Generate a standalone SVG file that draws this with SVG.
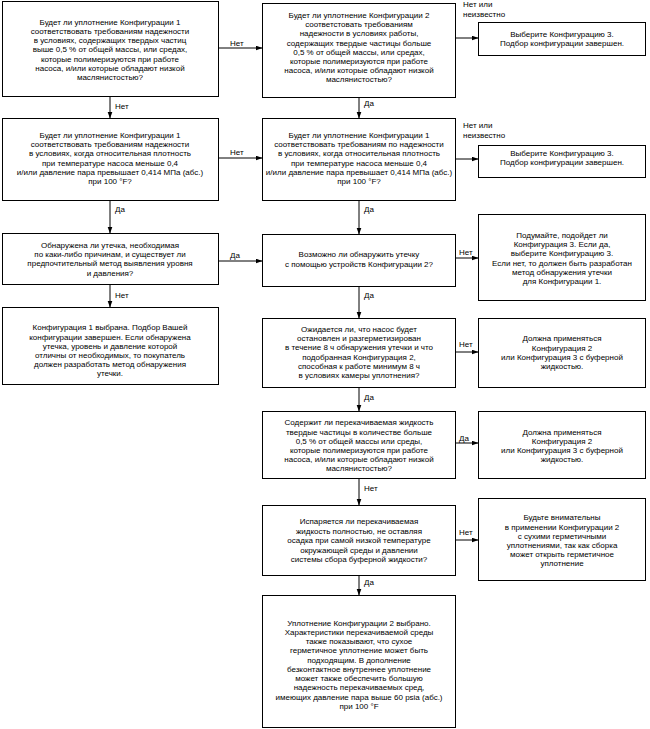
<svg xmlns="http://www.w3.org/2000/svg" width="650" height="729" viewBox="0 0 650 729">
<defs>
<style>
.b{fill:#fff;stroke:#000;stroke-width:1}
.t{font-family:"Liberation Sans",Arial,sans-serif;font-size:8px;text-anchor:middle;fill:#000}
.l{font-family:"Liberation Sans",Arial,sans-serif;font-size:8px;text-anchor:start;fill:#000}
.c{fill:none;stroke:#000;stroke-width:1;marker-end:url(#ah)}
</style>
<marker id="ah" markerUnits="userSpaceOnUse" markerWidth="8" markerHeight="6" refX="7" refY="2.5" orient="auto">
<path d="M0,0 L7,2.5 L0,5 z" fill="#000"/>
</marker>
</defs>
<rect width="650" height="729" fill="#fff"/>

<g id="connectors">
<path class="c" d="M218.5,48 H262.5"/>
<path class="c" d="M110,96.5 V118.5"/>
<path class="c" d="M455.5,38 H478.5"/>
<path class="c" d="M359,97.5 V118.5"/>
<path class="c" d="M218.5,158 H262.5"/>
<path class="c" d="M455.5,159 H478.5"/>
<path class="c" d="M110,200.5 V233.5"/>
<path class="c" d="M359,200.5 V234.5"/>
<path class="c" d="M218.5,261 H262.5"/>
<path class="c" d="M110,284.5 V307.5"/>
<path class="c" d="M455.5,258 H478.5"/>
<path class="c" d="M359,286.5 V318.5"/>
<path class="c" d="M455.5,352 H478.5"/>
<path class="c" d="M359,387.5 V411.5"/>
<path class="c" d="M455.5,443 H478.5"/>
<path class="c" d="M359,478.5 V505.5"/>
<path class="c" d="M455.5,540 H478.5"/>
<path class="c" d="M359,575.5 V595.5"/>
<text class="l" x="230" y="46">Нет</text>
<text class="l" x="115" y="109">Нет</text>
<text class="l" x="463" y="7">Нет или</text>
<text class="l" x="463" y="16.5">неизвестно</text>
<text class="l" x="364" y="106">Да</text>
<text class="l" x="230" y="155">Нет</text>
<text class="l" x="463" y="128">Нет или</text>
<text class="l" x="463" y="137.5">неизвестно</text>
<text class="l" x="115" y="212">Да</text>
<text class="l" x="364" y="212">Да</text>
<text class="l" x="230" y="258">Да</text>
<text class="l" x="115" y="298">Нет</text>
<text class="l" x="459" y="255">Нет</text>
<text class="l" x="364" y="298">Да</text>
<text class="l" x="459" y="347">Нет</text>
<text class="l" x="364" y="399.5">Да</text>
<text class="l" x="459" y="440.5">Да</text>
<text class="l" x="364" y="491">Нет</text>
<text class="l" x="459" y="534.5">Нет</text>
<text class="l" x="364" y="584.5">Да</text>
</g>

<g id="L1">
<rect class="b" x="2.5" y="1.5" width="216" height="95"/>
<text class="t" y="24.8"><tspan x="110">Будет ли уплотнение Конфигурации 1</tspan><tspan x="110" dy="9.2">соответствовать требованиям надежности</tspan><tspan x="110" dy="9.2">в условиях, содержащих твердых частиц</tspan><tspan x="110" dy="9.2">выше 0,5 % от общей массы, или средах,</tspan><tspan x="110" dy="9.2">которые полимеризуются при работе</tspan><tspan x="110" dy="9.2">насоса, и/или которые обладают низкой</tspan><tspan x="110" dy="9.2">маслянистостью?</tspan></text>
</g>

<g id="L2">
<rect class="b" x="2.5" y="118.5" width="216" height="82"/>
<text class="t" y="138"><tspan x="110">Будет ли уплотнение Конфигурации 1</tspan><tspan x="110" dy="9.2">соответствовать требованиям надежности</tspan><tspan x="110" dy="9.2">в условиях, когда относительная плотность</tspan><tspan x="110" dy="9.2">при температуре насоса меньше 0,4</tspan><tspan x="110" dy="9.2">и/или давление пара превышает 0,414 МПа (абс.)</tspan><tspan x="110" dy="9.2">при 100 °F?</tspan></text>
</g>

<g id="L3">
<rect class="b" x="2.5" y="233.5" width="216" height="51"/>
<text class="t" y="248"><tspan x="110">Обнаружена ли утечка, необходимая</tspan><tspan x="110" dy="9.2">по каки-либо причинам, и существует ли</tspan><tspan x="110" dy="9.2">предпочтительный метод выявления уровня</tspan><tspan x="110" dy="9.2">и давления?</tspan></text>
</g>

<g id="L4">
<rect class="b" x="2.5" y="307.5" width="216" height="77"/>
<text class="t" y="330.3"><tspan x="110">Конфигурация 1 выбрана. Подбор Вашей</tspan><tspan x="110" dy="9.2">конфигурации завершен. Если обнаружена</tspan><tspan x="110" dy="9.2">утечка, уровень и давление которой</tspan><tspan x="110" dy="9.2">отличны от необходимых, то покупатель</tspan><tspan x="110" dy="9.2">должен разработать метод обнаружения</tspan><tspan x="110" dy="9.2">утечки.</tspan></text>
</g>

<g id="M1">
<rect class="b" x="262.5" y="3.5" width="193" height="94"/>
<text class="t" y="18"><tspan x="359">Будет ли уплотнение Конфигурации 2</tspan><tspan x="359" dy="9.2">соответстовать требованиям</tspan><tspan x="359" dy="9.2">надежности в условиях работы,</tspan><tspan x="359" dy="9.2">содержащих твердые частицы больше</tspan><tspan x="359" dy="9.2">0,5 % от общей массы, или средах,</tspan><tspan x="359" dy="9.2">которые полимеризуются при работе</tspan><tspan x="359" dy="9.2">насоса, и/или которые обладают низкой</tspan><tspan x="359" dy="9.2">маслянистостью?</tspan></text>
</g>

<g id="M2">
<rect class="b" x="262.5" y="118.5" width="193" height="82"/>
<text class="t" y="138"><tspan x="359">Будет ли уплотнение Конфигурации 1</tspan><tspan x="359" dy="9.2">соответствовать требованиям по надежности</tspan><tspan x="359" dy="9.2">в условиях, когда относительная плотность</tspan><tspan x="359" dy="9.2">при температуре насоса меньше 0,4</tspan><tspan x="359" dy="9.2">и/или давление пара превышает 0,414 МПа (абс.)</tspan><tspan x="359" dy="9.2">при 100 °F?</tspan></text>
</g>

<g id="M3">
<rect class="b" x="262.5" y="234.5" width="193" height="52"/>
<text class="t" y="257.3"><tspan x="359">Возможно ли обнаружить утечку</tspan><tspan x="359" dy="9.7">с помощью устройств Конфигурации 2?</tspan></text>
</g>

<g id="M4">
<rect class="b" x="262.5" y="318.5" width="193" height="69"/>
<text class="t" y="332"><tspan x="359">Ожидается ли, что насос будет</tspan><tspan x="359" dy="9.2">остановлен и разгерметизирован</tspan><tspan x="359" dy="9.2">в течение 8 ч обнаружения утечки и что</tspan><tspan x="359" dy="9.2">подобранная Конфигурация 2,</tspan><tspan x="359" dy="9.2">способная к работе минимум 8 ч</tspan><tspan x="359" dy="9.2">в условиях камеры уплотнения?</tspan></text>
</g>

<g id="M5">
<rect class="b" x="262.5" y="411.5" width="193" height="67"/>
<text class="t" y="425.3"><tspan x="359">Содержит ли перекачиваемая жидкость</tspan><tspan x="359" dy="9.2">твердые частицы в количестве больше</tspan><tspan x="359" dy="9.2">0,5 % от общей массы или среды,</tspan><tspan x="359" dy="9.2">которые полимеризуются при работе</tspan><tspan x="359" dy="9.2">насоса, и/или которые обладают низкой</tspan><tspan x="359" dy="9.2">маслянистостью?</tspan></text>
</g>

<g id="M6">
<rect class="b" x="262.5" y="505.5" width="193" height="70"/>
<text class="t" y="524"><tspan x="359">Испаряется ли перекачиваемая</tspan><tspan x="359" dy="9.5">жидкость полностью, не оставляя</tspan><tspan x="359" dy="9.5">осадка при самой низкой температуре</tspan><tspan x="359" dy="9.5">окружающей среды и давлении</tspan><tspan x="359" dy="9.5">системы сбора буферной жидкости?</tspan></text>
</g>

<g id="M7">
<rect class="b" x="262.5" y="595.5" width="193" height="132"/>
<text class="t" y="625.7"><tspan x="359">Уплотнение Конфигурации 2 выбрано.</tspan><tspan x="359" dy="9.25">Характеристики перекачиваемой среды</tspan><tspan x="359" dy="9.25">также показывают, что сухое</tspan><tspan x="359" dy="9.25">герметичное уплотнение может быть</tspan><tspan x="359" dy="9.25">подходящим. В дополнение</tspan><tspan x="359" dy="9.25">безконтактное внутреннее уплотнение</tspan><tspan x="359" dy="9.25">может также обеспечить большую</tspan><tspan x="359" dy="9.25">надежность перекачиваемых сред,</tspan><tspan x="359" dy="9.25">имеющих давление пара выше 60 psia (абс.)</tspan><tspan x="359" dy="9.25">при 100 °F</tspan></text>
</g>

<g id="R1">
<rect class="b" x="478.5" y="22.5" width="167" height="33"/>
<text class="t" y="37.3"><tspan x="562">Выберите Конфигурацию 3.</tspan><tspan x="562" dy="9">Подбор конфигурации завершен.</tspan></text>
</g>

<g id="R2">
<rect class="b" x="478.5" y="145.5" width="167" height="32"/>
<text class="t" y="156.3"><tspan x="562">Выберите Конфигурацию 3.</tspan><tspan x="562" dy="8.7">Подбор конфигурации завершен.</tspan></text>
</g>

<g id="R3">
<rect class="b" x="478.5" y="214.5" width="167" height="86"/>
<text class="t" y="238"><tspan x="562">Подумайте, подойдет ли</tspan><tspan x="562" dy="9.2">Конфигурация 3. Если да,</tspan><tspan x="562" dy="9.2">выберите Конфигурацию 3.</tspan><tspan x="562" dy="9.2">Если нет, то должен быть разработан</tspan><tspan x="562" dy="9.2">метод обнаружения утечки</tspan><tspan x="562" dy="9.2">для Конфигурации 1.</tspan></text>
</g>

<g id="R4">
<rect class="b" x="478.5" y="318.5" width="167" height="69"/>
<text class="t" y="341.3"><tspan x="562">Должна применяться</tspan><tspan x="562" dy="9.2">Конфигурация 2</tspan><tspan x="562" dy="9.2">или Конфигурация 3 с буферной</tspan><tspan x="562" dy="9.2">жидкостью.</tspan></text>
</g>

<g id="R5">
<rect class="b" x="478.5" y="411.5" width="167" height="67"/>
<text class="t" y="434.7"><tspan x="562">Должна применяться</tspan><tspan x="562" dy="9.2">Конфигурация 2</tspan><tspan x="562" dy="9.2">или Конфигурация 3 с буферной</tspan><tspan x="562" dy="9.2">жидкостью.</tspan></text>
</g>

<g id="R6">
<rect class="b" x="478.5" y="498.5" width="167" height="82"/>
<text class="t" y="520.3"><tspan x="562">Будьте внимательны</tspan><tspan x="562" dy="9.2">в применении Конфигурации 2</tspan><tspan x="562" dy="9.2">с сухими герметичными</tspan><tspan x="562" dy="9.2">уплотнениями, так как сборка</tspan><tspan x="562" dy="9.2">может открыть герметичное</tspan><tspan x="562" dy="9.2">уплотнение</tspan></text>
</g>
</svg>
